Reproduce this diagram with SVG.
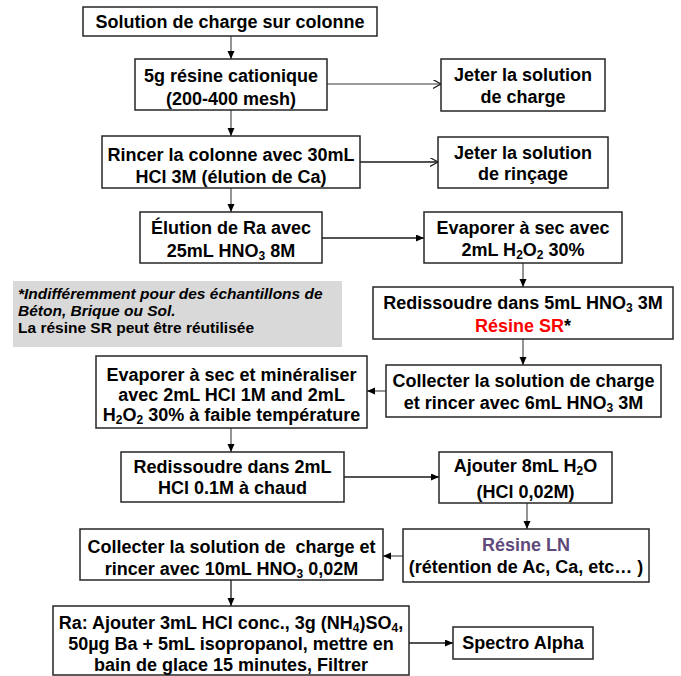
<svg xmlns="http://www.w3.org/2000/svg" width="681" height="676" viewBox="0 0 681 676">
<style>
.box{fill:#fff;stroke:#262626;stroke-width:1.5}
.t{font-family:"Liberation Sans",Arial,sans-serif;font-weight:bold;font-size:18px;fill:#000;text-anchor:middle}
.n{font-family:"Liberation Sans",Arial,sans-serif;font-weight:bold;font-size:15.5px;fill:#000}
.c{stroke:#1a1a1a;stroke-width:1.3;fill:none}
.g{stroke:#7a7a7a;stroke-width:1.6;fill:none}
</style>
<defs>
<marker id="ah" markerUnits="userSpaceOnUse" markerWidth="9" markerHeight="8" refX="8" refY="3.5" orient="auto"><path d="M0,0 L8,3.5 L0,7 z" fill="#000"/></marker>
<marker id="ao" markerUnits="userSpaceOnUse" markerWidth="10" markerHeight="10" refX="8" refY="4.5" orient="auto"><path d="M0,0 L8,4.5 L0,9" fill="none" stroke="#1a1a1a" stroke-width="1.2"/></marker>
</defs>
<g id="connectors">
<path class="g" d="M231,36 V59" marker-end="url(#ah)"/>
<path class="g" d="M231,110 V136" marker-end="url(#ah)"/>
<path class="g" d="M231,188 V212" marker-end="url(#ah)"/>
<path class="g" d="M327,84 H441" marker-end="url(#ao)"/>
<path class="c" d="M360,162 H438" marker-end="url(#ao)"/>
<path class="c" d="M322,238 H424" marker-end="url(#ah)"/>
<path class="g" d="M523,263 V287" marker-end="url(#ah)"/>
<path class="g" d="M523,339 V365" marker-end="url(#ah)"/>
<path class="g" d="M386,391 H367" marker-end="url(#ah)"/>
<path class="g" d="M231,428 V452" marker-end="url(#ah)"/>
<path class="c" d="M344,477 H439" marker-end="url(#ah)"/>
<path class="g" d="M527,503 V529" marker-end="url(#ah)"/>
<path class="g" d="M403,556 H383" marker-end="url(#ah)"/>
<path class="c" d="M231,580 V606" marker-end="url(#ah)"/>
<path class="c" d="M409,643 H453" marker-end="url(#ah)"/>
</g>
<g id="n1"><rect class="box" x="83" y="7" width="294" height="29"/><text class="t" x="230" y="28">Solution de charge sur colonne</text></g>
<g id="n2"><rect class="box" x="135" y="59" width="192" height="51"/><text class="t" x="231" y="82">5g résine cationique</text><text class="t" x="231" y="105">(200-400 mesh)</text></g>
<g id="n3"><rect class="box" x="102" y="136" width="258" height="52"/><text class="t" x="231" y="161">Rincer la colonne avec 30mL</text><text class="t" x="231" y="183">HCl 3M (élution de Ca)</text></g>
<g id="n4"><rect class="box" x="140" y="212" width="182" height="51"/><text class="t" x="231" y="234">Élution de Ra avec</text><text class="t" x="231" y="257">25mL HNO<tspan font-size="12" dy="3">3</tspan><tspan dy="-3"> 8M</tspan></text></g>
<g id="n5"><rect class="box" x="441" y="59" width="164" height="52"/><text class="t" x="523" y="81">Jeter la solution</text><text class="t" x="523" y="103">de charge</text></g>
<g id="n6"><rect class="box" x="438" y="137" width="170" height="51"/><text class="t" x="523" y="159">Jeter la solution</text><text class="t" x="523" y="180">de rinçage</text></g>
<g id="n7"><rect class="box" x="424" y="212" width="198" height="51"/><text class="t" x="523" y="234">Evaporer à sec avec</text><text class="t" x="523" y="256">2mL H<tspan font-size="12" dy="3">2</tspan><tspan dy="-3">O</tspan><tspan font-size="12" dy="3">2</tspan><tspan dy="-3"> 30%</tspan></text></g>
<g id="note"><rect x="13" y="281" width="329" height="66" fill="#d9d9d9"/><text class="n" x="18" y="299" font-style="italic">*Indifféremment pour des échantillons de</text><text class="n" x="18" y="316" font-style="italic">Béton, Brique ou Sol.</text><text class="n" x="18" y="333">La résine SR peut être réutilisée</text></g>
<g id="n8"><rect class="box" x="373" y="287" width="300" height="52"/><text class="t" x="523" y="309">Redissoudre dans 5mL HNO<tspan font-size="12" dy="3">3</tspan><tspan dy="-3"> 3M</tspan></text><text class="t" x="523" y="332"><tspan fill="#ff0000">Résine SR</tspan>*</text></g>
<g id="n9"><rect class="box" x="386" y="365" width="275" height="52"/><text class="t" x="523.5" y="387">Collecter la solution de charge</text><text class="t" x="523.5" y="409">et rincer avec 6mL HNO<tspan font-size="12" dy="3">3</tspan><tspan dy="-3"> 3M</tspan></text></g>
<g id="n10"><rect class="box" x="96" y="356" width="271" height="72"/><text class="t" x="231.5" y="381">Evaporer à sec et minéraliser</text><text class="t" x="231.5" y="401">avec 2mL HCl 1M and 2mL</text><text class="t" x="231.5" y="421">H<tspan font-size="12" dy="3">2</tspan><tspan dy="-3">O</tspan><tspan font-size="12" dy="3">2</tspan><tspan dy="-3"> 30% à faible température</tspan></text></g>
<g id="n11"><rect class="box" x="121" y="452" width="223" height="50"/><text class="t" x="232.5" y="473">Redissoudre dans 2mL</text><text class="t" x="232.5" y="494">HCl 0.1M à chaud</text></g>
<g id="n12"><rect class="box" x="439" y="452" width="173" height="51"/><text class="t" x="525.5" y="472">Ajouter 8mL H<tspan font-size="12" dy="3">2</tspan><tspan dy="-3">O</tspan></text><text class="t" x="525.5" y="498">(HCl 0,02M)</text></g>
<g id="n13"><rect class="box" x="403" y="529" width="246" height="53"/><text class="t" x="526" y="551" style="fill:#604a7b">Résine LN</text><text class="t" x="526" y="573">(rétention de Ac, Ca, etc… )</text></g>
<g id="n14"><rect class="box" x="80" y="529" width="303" height="51"/><text class="t" x="231.5" y="553" xml:space="preserve">Collecter la solution de  charge et</text><text class="t" x="231.5" y="575">rincer avec 10mL HNO<tspan font-size="12" dy="3">3</tspan><tspan dy="-3"> 0,02M</tspan></text></g>
<g id="n15"><rect class="box" x="53" y="606" width="356" height="69"/><text class="t" x="231" y="629">Ra: Ajouter 3mL HCl conc., 3g (NH<tspan font-size="12" dy="3">4</tspan><tspan dy="-3">)SO</tspan><tspan font-size="12" dy="3">4</tspan><tspan dy="-3">,</tspan></text><text class="t" x="231" y="650">50µg Ba + 5mL isopropanol, mettre en</text><text class="t" x="231" y="671">bain de glace 15 minutes, Filtrer</text></g>
<g id="n16"><rect class="box" x="453" y="627" width="140" height="32"/><text class="t" x="523" y="649">Spectro Alpha</text></g>
</svg>
